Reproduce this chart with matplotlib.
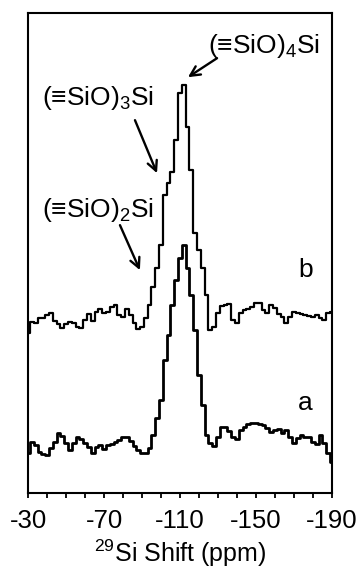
import numpy as np
import matplotlib
matplotlib.use("Agg")
import matplotlib.pyplot as plt
from matplotlib.ticker import FixedLocator

plt.rcParams['font.family'] = ['Liberation Sans', 'DejaVu Sans']
plt.rcParams['mathtext.fontset'] = 'custom'
plt.rcParams['mathtext.rm'] = 'Liberation Sans'
plt.rcParams['axes.unicode_minus'] = False

# chemical shift axis, 2 ppm per point
shift = np.arange(-30, -191, -2)

# spectrum a (lower trace)
spec_a = [40, 51, 48, 41, 39, 38, 45, 51, 60, 57,
          50, 43, 50, 56, 54, 50, 46, 40, 46, 48,
          44, 48, 49, 51, 53, 56, 56, 52, 47, 43,
          40, 40, 45, 58, 75, 93, 133, 158, 188, 213,
          235, 248, 225, 198, 163, 118, 88, 58, 50, 47,
          56, 66, 66, 62, 56, 54, 63, 66, 69, 70,
          70, 69, 68, 65, 61, 63, 64, 60, 63, 56,
          50, 55, 58, 56, 56, 51, 49, 58, 50, 40,
          31]

# spectrum b (upper trace)
spec_b = [160, 171, 170, 175, 175, 178, 180, 172, 169, 165,
          169, 171, 170, 166, 165, 173, 179, 172, 181, 184,
          180, 181, 186, 188, 178, 176, 184, 178, 170, 164,
          166, 175, 188, 206, 225, 248, 298, 310, 321, 353,
          400, 408, 366, 323, 260, 243, 225, 198, 163, 166,
          180, 187, 188, 189, 173, 170, 180, 183, 184, 186,
          190, 190, 183, 180, 188, 185, 179, 176, 170, 176,
          181, 180, 179, 178, 177, 176, 178, 175, 173, 180,
          181]

major_ticks = [-30, -70, -110, -150, -190]
minor_ticks = list(range(-40, -190, -10))

fig = plt.figure(figsize=(3.61, 5.74), dpi=100)
ax = fig.add_axes([0.0776, 0.141, 0.842, 0.836])

ax.plot(shift, spec_a, drawstyle='steps-mid', color='black', lw=2.0)
ax.plot(shift, spec_b, drawstyle='steps-mid', color='black', lw=1.6)

ax.set_xlim(-30, -190)
ax.set_ylim(0, 480)

for s in ax.spines.values():
    s.set_linewidth(1.5)

ax.xaxis.set_major_locator(FixedLocator(major_ticks))
ax.xaxis.set_minor_locator(FixedLocator(minor_ticks))
ax.set_xticklabels([str(t) for t in major_ticks])
ax.tick_params(axis='x', which='both', direction='out', length=3.5,
               width=1.3, labelsize=18.5, pad=8)
ax.tick_params(axis='y', left=False, labelleft=False)
ax.set_xlabel(r'$^{29}$Si Shift (ppm)', fontsize=18, labelpad=3)

# peak assignments
lab = dict(fontsize=19, ha='left', va='baseline')
ax.text(-124.7, 440, r'(≡SiO)$_{4}$Si', **lab)
ax.text(-37.4, 388, r'(≡SiO)$_{3}$Si', **lab)
ax.text(-37.4, 276, r'(≡SiO)$_{2}$Si', **lab)
ax.text(-172.1, 216, 'b', **lab)
ax.text(-172.1, 83, 'a', **lab)

arrow = dict(arrowstyle='->,head_length=0.7,head_width=0.35',
             color='black', lw=1.7, shrinkA=0, shrinkB=0)
ax.annotate('', xy=(-114.2, 416), xytext=(-129.5, 435), arrowprops=arrow)
ax.annotate('', xy=(-97.9, 320), xytext=(-86.3, 373), arrowprops=arrow)
ax.annotate('', xy=(-88.9, 223), xytext=(-78.4, 268), arrowprops=arrow)

fig.savefig('out.png', dpi=100)
